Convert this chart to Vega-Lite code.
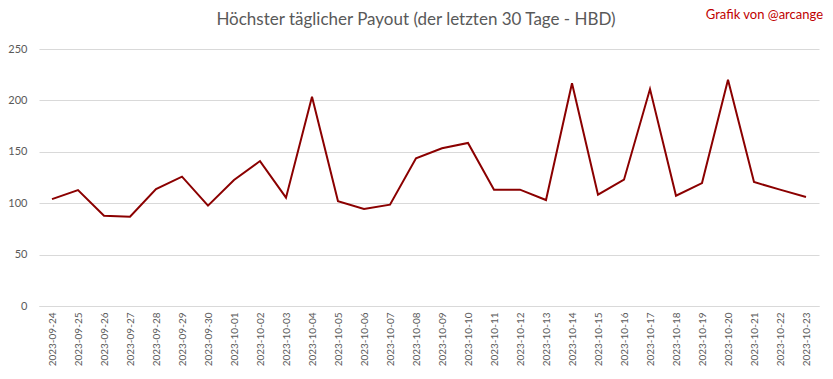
{
  "$schema": "https://vega.github.io/schema/vega-lite/v6.json",
  "autosize": "none",
  "width": 780,
  "height": 257,
  "padding": {"left": 39, "top": 49, "right": 14, "bottom": 73},
  "background": "white",
  "title": {
    "text": "Höchster täglicher Payout (der letzten 30 Tage - HBD)",
    "anchor": "middle",
    "frame": "group",
    "font": "Lato",
    "fontSize": 17,
    "fontWeight": "normal",
    "color": "#595959",
    "offset": 0,
    "dy": 20,
    "dx": -13
  },
  "config": {
    "view": {"stroke": null},
    "font": "Lato"
  },
  "data": {
    "values": [
      {"date": "2023-09-24", "payout": 104},
      {"date": "2023-09-25", "payout": 112.8},
      {"date": "2023-09-26", "payout": 87.8},
      {"date": "2023-09-27", "payout": 86.9},
      {"date": "2023-09-28", "payout": 113.8},
      {"date": "2023-09-29", "payout": 125.8},
      {"date": "2023-09-30", "payout": 97.6},
      {"date": "2023-10-01", "payout": 122.6},
      {"date": "2023-10-02", "payout": 141},
      {"date": "2023-10-03", "payout": 105.4},
      {"date": "2023-10-04", "payout": 203.6},
      {"date": "2023-10-05", "payout": 102},
      {"date": "2023-10-06", "payout": 94.4},
      {"date": "2023-10-07", "payout": 98.6},
      {"date": "2023-10-08", "payout": 143.6},
      {"date": "2023-10-09", "payout": 153.4},
      {"date": "2023-10-10", "payout": 158.6},
      {"date": "2023-10-11", "payout": 113.2},
      {"date": "2023-10-12", "payout": 113.2},
      {"date": "2023-10-13", "payout": 103.1},
      {"date": "2023-10-14", "payout": 216.6},
      {"date": "2023-10-15", "payout": 108.3},
      {"date": "2023-10-16", "payout": 122.9},
      {"date": "2023-10-17", "payout": 211},
      {"date": "2023-10-18", "payout": 107.3},
      {"date": "2023-10-19", "payout": 119.6},
      {"date": "2023-10-20", "payout": 220.2},
      {"date": "2023-10-21", "payout": 120.6},
      {"date": "2023-10-22", "payout": 113.2},
      {"date": "2023-10-23", "payout": 106}
    ]
  },
  "layer": [
    {
      "mark": {"type": "line", "color": "#8b0000", "strokeWidth": 2},
      "encoding": {
        "x": {
          "field": "date",
          "type": "ordinal",
          "scale": {"paddingInner": 0, "paddingOuter": 0.5},
          "axis": {
            "title": null,
            "labelAngle": 270,
            "labelFontSize": 10,
            "labelColor": "#595959",
            "labelPadding": 6,
            "ticks": false,
            "domain": true,
            "domainColor": "#d9d9d9",
            "grid": false
          }
        },
        "y": {
          "field": "payout",
          "type": "quantitative",
          "scale": {"domain": [0, 250], "nice": false, "zero": false},
          "axis": {
            "title": null,
            "values": [0, 50, 100, 150, 200, 250],
            "labelFontSize": 11,
            "labelColor": "#595959",
            "labelPadding": 12,
            "ticks": false,
            "domain": false,
            "gridColor": "#d9d9d9",
            "gridWidth": 1
          }
        }
      }
    },
    {
      "data": {"values": [{"label": "Grafik von @arcange"}]},
      "mark": {"type": "text", "align": "right", "baseline": "middle", "color": "#c00000", "fontSize": 13, "clip": false, "dx": 17},
      "encoding": {
        "text": {"field": "label"},
        "x": {"datum": "2023-10-23"},
        "y": {"datum": 283, "scale": {"domain": [0, 250], "nice": false, "zero": false}}
      }
    }
  ]
}
